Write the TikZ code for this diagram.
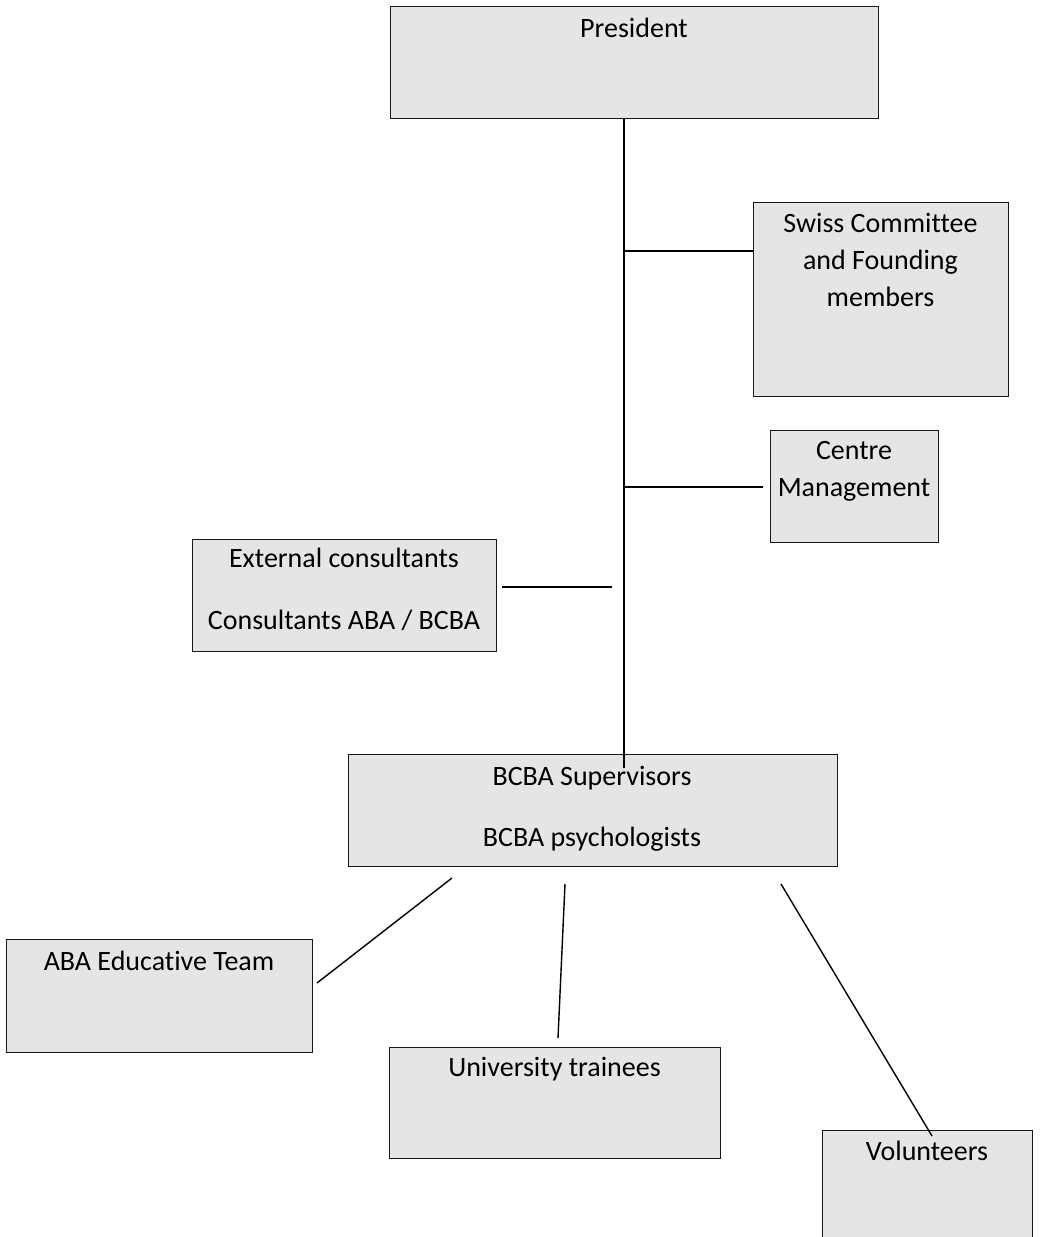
\documentclass[tikz,border=0pt]{standalone}
\usepackage{fontspec}
\setmainfont{Carlito}[Ligatures={NoCommon}]
\definecolor{boxfill}{RGB}{229,229,229}
\begin{document}
\begin{tikzpicture}[x=1pt,y=-1pt,
  box/.style={draw=black!90, line width=1.4pt, fill=boxfill, anchor=north west, inner sep=0pt},
  lbl/.style={anchor=base, inner sep=0pt, font=\fontsize{28}{37}\selectfont},
  link/.style={line width=1.4pt, black}]
\clip (0,0) rectangle (1039,1237);
% boxes
\node[box, minimum width=488pt, minimum height=112pt] (pres)   at (390,6) {};
\node[box, minimum width=255pt, minimum height=194pt] (swiss)  at (753,202) {};
\node[box, minimum width=168pt, minimum height=112pt] (centre) at (770,430) {};
\node[box, minimum width=304pt, minimum height=112pt] (ext)    at (192,539) {};
\node[box, minimum width=489pt, minimum height=112pt] (bcba)   at (348,754) {};
\node[box, minimum width=306pt, minimum height=113pt] (aba)    at (6,939) {};
\node[box, minimum width=331pt, minimum height=111pt] (ut)     at (389,1047) {};
\node[box, minimum width=210pt, minimum height=140pt] (vol)    at (822,1130) {};
% texts
\node[lbl] (presT)   at (634,37)    {President};
\node[lbl] (swissT)  at (880.5,232) {\begin{tabular}[t]{@{}c@{}}Swiss Committee\\and Founding\\members\end{tabular}};
\node[lbl] (centreT) at (854,459)   {\begin{tabular}[t]{@{}c@{}}Centre\\Management\end{tabular}};
\node[lbl] (extT)    at (344,567)   {\begin{tabular}[t]{@{}c@{}}External consultants\\[25pt]Consultants ABA / BCBA\end{tabular}};
\node[lbl] (bcbaT)   at (592,785)   {\begin{tabular}[t]{@{}c@{}}BCBA Supervisors\\[24pt]BCBA psychologists\end{tabular}};
\node[lbl] (abaT)    at (159,970)   {ABA Educative Team};
\node[lbl] (utT)     at (554.5,1076) {University trainees};
\node[lbl] (volT)    at (927,1160)  {Volunteers};
% connector coordinates
\coordinate (tx) at (624,0);
\coordinate (trunkEnd) at (624,768);
\coordinate (s1) at (624,251);
\coordinate (c1) at (624,487);
\coordinate (c2) at (763,487);
\coordinate (e1) at (502,587);
\coordinate (e2) at (612,587);
\coordinate (d1) at (452,878);
\coordinate (d2) at (317,983);
\coordinate (m1) at (565,884);
\coordinate (m2) at (558,1038);
\coordinate (r1) at (781,884);
\coordinate (r2) at (932,1136);
% connectors
\draw[link] (pres.south -| tx) -- (trunkEnd);
\draw[link] (s1) -- (s1 -| swiss.west);
\draw[link] (c1) -- (c2);
\draw[link] (e1) -- (e2);
\draw[link] (d1) -- (d2);
\draw[link] (m1) -- (m2);
\draw[link] (r1) -- (r2);
\end{tikzpicture}
\end{document}
